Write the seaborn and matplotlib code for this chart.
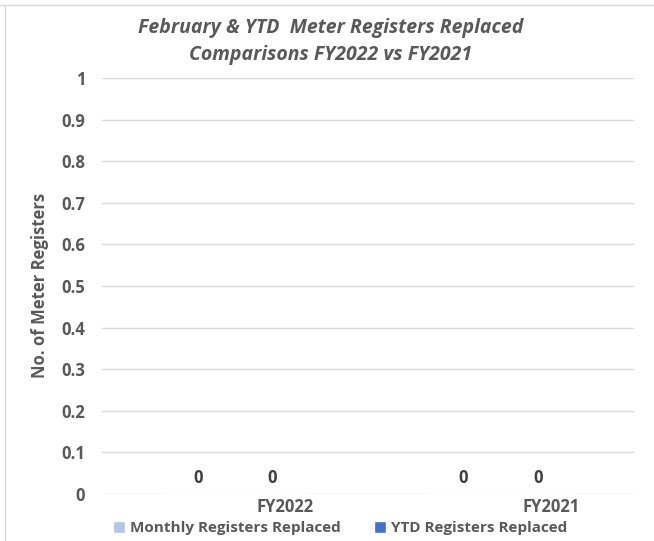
import matplotlib.pyplot as plt
import matplotlib.transforms as mtransforms
from matplotlib.patches import Patch
import numpy as np
import pandas as pd
import seaborn as sns

sns.set_theme(style="white")
plt.rcParams['font.family'] = ['Open Sans', 'DejaVu Sans']

# ─── DATA ────────────────────────────────────────────────────────────────
CATEGORIES = ["FY2022", "FY2021"]
SERIES = ["Monthly Registers Replaced", "YTD Registers Replaced"]
MONTHLY = [0, 0]
YTD = [0, 0]
COLORS = ["#B4C7E7", "#4472C4"]
TEXT = "#595959"

df = pd.DataFrame({
    "year": CATEGORIES * 2,
    "series": [SERIES[0]] * 2 + [SERIES[1]] * 2,
    "value": MONTHLY + YTD,
})

fig = plt.figure(figsize=(6.54, 5.41), dpi=100)
ax = fig.add_axes([0.156, 0.087, 0.813, 0.769])

sns.barplot(data=df, x="year", y="value", hue="series", order=CATEGORIES,
            hue_order=SERIES, palette=COLORS, width=0.56, ax=ax, legend=False)

ax.set_ylim(0, 1)
ax.set_xlim(-0.5, 1.5)
ax.set_yticks(np.arange(0, 1.01, 0.1))
ax.set_yticklabels(["0", "0.1", "0.2", "0.3", "0.4", "0.5", "0.6", "0.7", "0.8", "0.9", "1"])
ax.grid(axis="y", color="#D9D9D9", linewidth=1)
ax.set_axisbelow(True)
for s in ax.spines.values():
    s.set_visible(False)
ax.tick_params(axis="both", length=0, labelsize=12, labelcolor=TEXT)
ax.tick_params(axis="y", pad=12)
ax.tick_params(axis="x", pad=3)
for lab in ax.get_yticklabels() + ax.get_xticklabels():
    lab.set_fontweight("bold")

# Excel places category labels off to the right
offset = mtransforms.ScaledTranslation(0.5, 0, fig.dpi_scale_trans)
for lab in ax.get_xticklabels():
    lab.set_transform(lab.get_transform() + offset)

for cont, vals in zip(ax.containers, [MONTHLY, YTD]):
    ax.bar_label(cont, labels=[str(v) for v in vals], padding=5,
                 fontsize=12, fontweight="bold", color="#404040")

ax.set_xlabel("")
ax.set_ylabel("No. of Meter Registers", fontsize=12, fontweight="bold",
              color=TEXT, labelpad=9)

fig.text(0.505, 0.948, "February & YTD  Meter Registers Replaced",
         ha="center", va="center", fontsize=14, fontweight="bold",
         fontstyle="italic", color=TEXT)
fig.text(0.505, 0.898, "Comparisons FY2022 vs FY2021",
         ha="center", va="center", fontsize=14, fontweight="bold",
         fontstyle="italic", color=TEXT)

handles = [Patch(facecolor=c, label=s) for c, s in zip(COLORS, SERIES)]
leg = fig.legend(handles=handles, loc="center", bbox_to_anchor=(0.52, 0.024),
                 ncol=2, frameon=False, fontsize=11, handlelength=0.8,
                 handleheight=0.8, handletextpad=0.3, columnspacing=2.2)
for t in leg.get_texts():
    t.set_color(TEXT)
    t.set_fontweight("bold")

# screenshot frame edges
fig.add_artist(plt.Line2D([0, 1], [0.99, 0.99], color="#D9D9D9", lw=1, transform=fig.transFigure))
fig.add_artist(plt.Line2D([0.008, 0.008], [0, 0.99], color="#D9D9D9", lw=1, transform=fig.transFigure))

fig.savefig("out.png", dpi=100)
